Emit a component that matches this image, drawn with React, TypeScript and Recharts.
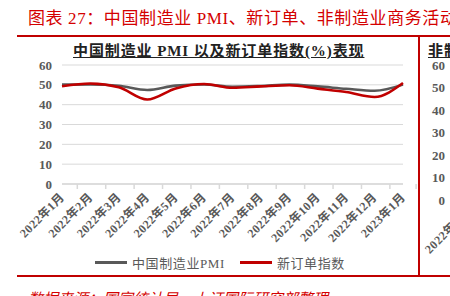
import React from "react";
import {
  LineChart,
  Line,
  XAxis,
  YAxis,
  CartesianGrid,
  Legend,
} from "recharts";

const months = [
  "2022年1月", "2022年2月", "2022年3月", "2022年4月", "2022年5月",
  "2022年6月", "2022年7月", "2022年8月", "2022年9月", "2022年10月",
  "2022年11月", "2022年12月", "2023年1月",
];
const pmi = [50.1, 50.2, 49.5, 47.4, 49.6, 50.2, 49.0, 49.4, 50.1, 49.2, 48.0, 47.0, 50.1];
const newOrders = [49.3, 50.7, 48.8, 42.6, 48.2, 50.4, 48.5, 49.2, 49.8, 48.1, 46.4, 43.9, 50.9];
const nonMfg = [51.1, 51.6, 48.4, 41.9, 47.8, 54.7, 53.8, 52.6, 50.6, 48.7, 46.7, 41.6, 54.4];
const yTicks = [0, 10, 20, 30, 40, 50, 60];

const data = months.map((m, i) => ({ m, pmi: pmi[i], orders: newOrders[i], non: nonMfg[i] }));

const RED = "#c00000";
const GRAY = "#595959";
const SERIF = "'Liberation Serif', 'Noto Sans CJK SC', serif";

const W = 418;
const H = 225;
const M = { top: 10, right: 15, left: 0, bottom: 10 };

const XTick = (props: any) => {
  const { x, y, payload, index, step } = props;
  const bx = x - step / 2;
  return (
    <g>
      <line x1={bx} x2={bx} y1={y} y2={y + 5} stroke="#d9d9d9" strokeWidth={1.5} />
      {index === months.length - 1 && (
        <line x1={bx + step} x2={bx + step} y1={y} y2={y + 5} stroke="#d9d9d9" strokeWidth={1.5} />
      )}
      <text
        x={x + 3}
        y={y + 14}
        textAnchor="end"
        transform={`rotate(-45 ${x + 3} ${y + 14})`}
        fill={GRAY}
        fontFamily={SERIF}
        fontWeight="bold"
        fontSize={12}
        letterSpacing={0.4}
      >
        {payload.value}
      </text>
    </g>
  );
};

const LegendBox = () => (
  <div
    style={{
      display: "flex",
      alignItems: "center",
      height: 16,
      paddingLeft: 95,
      fontFamily: SERIF,
      fontSize: 13,
      color: GRAY,
      letterSpacing: 0.6,
    }}
  >
    <span style={{ width: 32, height: 3, background: GRAY, marginRight: 5 }} />
    <span>中国制造业PMI</span>
    <span style={{ width: 32, height: 3, background: RED, marginLeft: 15, marginRight: 5 }} />
    <span>新订单指数</span>
  </div>
);

function Panel({
  keys,
  colors,
  legend,
  yWidth,
}: {
  keys: string[];
  colors: string[];
  legend: boolean;
  yWidth: number;
}) {
  const step = (W - M.right - yWidth) / months.length;
  return (
    <LineChart width={W} height={H} data={data} margin={M}>
      <CartesianGrid vertical={false} stroke="#d9d9d9" />
      <XAxis
        dataKey="m"
        interval={0}
        height={70}
        tickSize={0}
        tickMargin={0}
        tickLine={false}
        axisLine={{ stroke: "#d9d9d9", strokeWidth: 1.5 }}
        tick={<XTick step={step} />}
      />
      <YAxis
        width={yWidth}
        domain={[0, 60]}
        ticks={yTicks}
        interval={0}
        axisLine={false}
        tickLine={false}
        tickSize={0}
        tickMargin={yWidth - 52}
        tick={{ fill: GRAY, fontFamily: SERIF, fontWeight: "bold", fontSize: 13 }}
      />
      {legend && <Legend verticalAlign="bottom" height={16} content={<LegendBox />} />}
      {keys.map((k, i) => (
        <Line
          key={k}
          type="monotone"
          dataKey={k}
          stroke={colors[i]}
          strokeWidth={2.6}
          dot={false}
          isAnimationActive={false}
        />
      ))}
    </LineChart>
  );
}

const abs = (s: React.CSSProperties): React.CSSProperties => ({ position: "absolute", ...s });

const subTitle: React.CSSProperties = {
  whiteSpace: "nowrap",
  fontFamily: SERIF,
  fontWeight: "bold",
  fontSize: 15,
  letterSpacing: 0.9,
  color: "#222",
  textDecoration: "underline",
};

export default function App() {
  return (
    <div
      style={{
        position: "fixed",
        left: 0,
        top: 0,
        width: 450,
        height: 296,
        overflow: "hidden",
        background: "#fff",
      }}
    >
      <div
        style={abs({
          left: 28,
          top: 4,
          whiteSpace: "nowrap",
          fontFamily: SERIF,
          fontSize: 17,
          letterSpacing: 0.6,
          color: "#d40000",
        })}
      >
        图表 27：中国制造业 PMI、新订单、非制造业商务活动指数
      </div>
      <div style={abs({ left: 17, top: 35, width: 433, height: 2, background: RED })} />
      <div style={abs({ left: 417.5, top: 35, width: 2, height: 242, background: RED })} />
      <div style={abs({ left: 17, top: 275, width: 433, height: 2, background: RED })} />

      <div style={abs({ left: 73, top: 39, ...subTitle })}>
        中国制造业 PMI 以及新订单指数(%)表现
      </div>
      <div style={abs({ left: 0, top: 55 })}>
        <Panel keys={["pmi", "orders"]} colors={[GRAY, RED]} legend yWidth={62} />
      </div>

      <div style={abs({ left: 428, top: 39, ...subTitle })}>非制造业商务活动指数(%)表现</div>
      <div style={abs({ left: 420, top: 55, width: 30, height: 220, overflow: "hidden" })}>
        <div style={abs({ left: -27, top: 0 })}>
          <Panel keys={["non"]} colors={[RED]} legend={false} yWidth={74} />
        </div>
      </div>

      <div
        style={abs({
          left: 28,
          top: 287,
          whiteSpace: "nowrap",
          fontFamily: SERIF,
          fontStyle: "italic",
          fontSize: 15,
          color: "#d40000",
        })}
      >
        数据来源：国家统计局，上证国际研究部整理
      </div>
    </div>
  );
}
